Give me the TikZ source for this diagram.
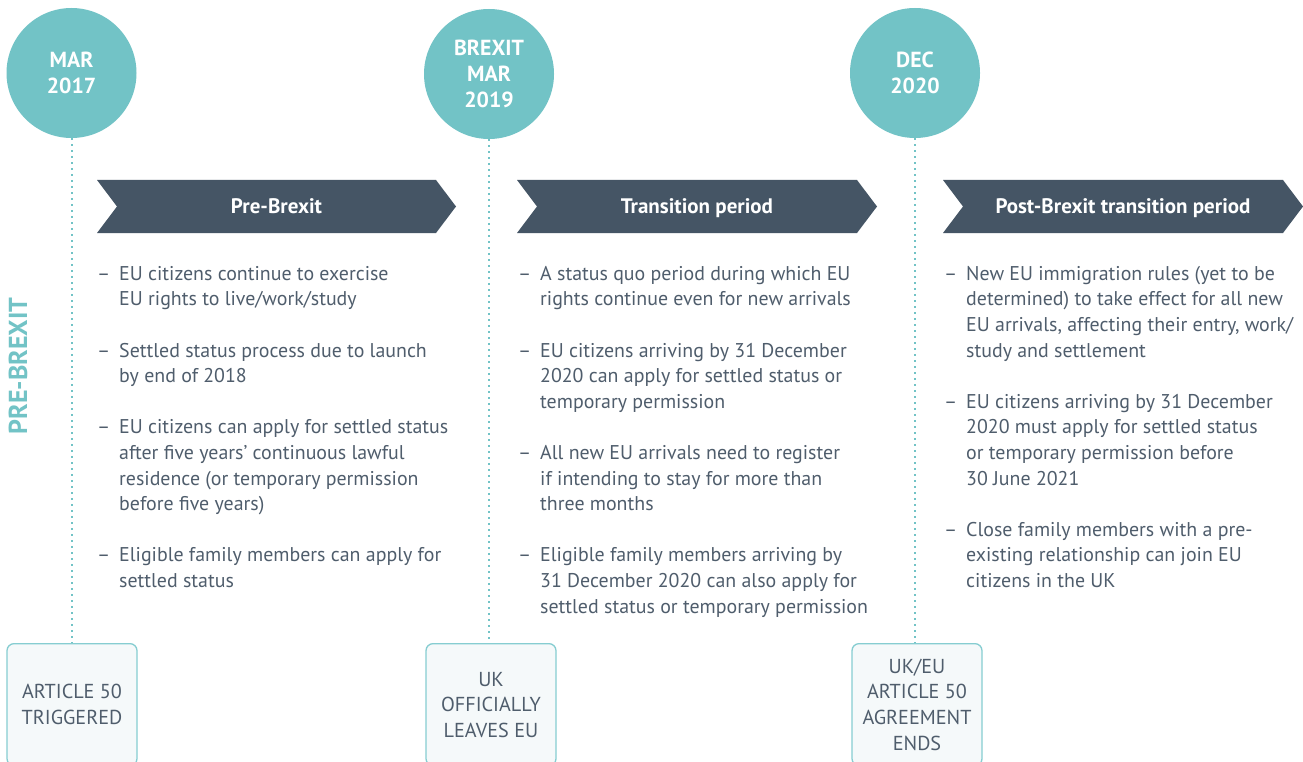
\documentclass[tikz,border=0pt]{standalone}
\usepackage{fontspec}
\setmainfont{PT Sans}
\usetikzlibrary{positioning}
\definecolor{teal}{HTML}{72C3C6}
\definecolor{slate}{HTML}{455565}
\definecolor{txt}{HTML}{4F5D6C}
\definecolor{boxline}{HTML}{86CDD1}
\definecolor{boxfill}{HTML}{F5F9FA}
\newcommand{\bul}{\llap{\makebox[22pt][l]{–}}}
\tikzset{
  datecircle/.style={circle, fill=teal, text=white, inner sep=0pt, minimum size=130pt,
    align=center, font=\bfseries\fontsize{21.8}{25.6}\selectfont},
  eventbox/.style={draw=boxline, line width=1.3pt, fill=boxfill, rounded corners=7pt,
    minimum width=130pt, minimum height=122pt, inner sep=0pt, anchor=north,
    text=txt, align=center, font=\fontsize{20.2}{25.6}\selectfont},
  chevtext/.style={text=white, anchor=base, font=\bfseries\fontsize{21}{24}\selectfont},
  chevfill/.style={fill=slate},
  bullets/.style={anchor=north west, inner sep=0pt, text=txt, align=left,
    font=\fontsize{19.9}{25.6}\selectfont},
  timeline/.style={draw=teal, line width=2pt, dash pattern=on 2pt off 4pt},
}
\begin{document}
\begin{tikzpicture}[x=1pt,y=-1pt]
\useasboundingbox (0,0) rectangle (1303,762);
\clip (0,0) rectangle (1303,762);
\fill[white] (0,0) rectangle (1303,762);

% date circles
\node[datecircle] (c1) at (71.5,73) {MAR\\2017};
\node[datecircle] (c2) at (489,74) {BREXIT\\MAR\\2019};
\node[datecircle] (c3) at (915,73) {DEC\\2020};

% event boxes
\node[eventbox] (b1) at (72,643) {ARTICLE 50\\TRIGGERED};
\node[eventbox] (b2) at (491,643) {UK\\OFFICIALLY\\LEAVES EU};
\node[eventbox] (b3) at (917,643) {UK/EU\\ARTICLE 50\\AGREEMENT\\ENDS};

% dotted timelines
\draw[timeline] (c1.south) -- (c1.south |- b1.north);
\draw[timeline] (c2.south) -- (c2.south |- b2.north);
\draw[timeline] (c3.south) -- (c3.south |- b3.north);

% chevrons
\fill[chevfill] (97,180) -- (436,180) -- (456,206.5) -- (436,233) -- (97,233) -- (117,206.5) -- cycle;
\fill[chevfill] (517,180) -- (857,180) -- (877,206.5) -- (857,233) -- (517,233) -- (537,206.5) -- cycle;
\fill[chevfill] (943,180) -- (1283,180) -- (1303,206.5) -- (1283,233) -- (943,233) -- (963,206.5) -- cycle;
\node[chevtext] (h1) at (276.5,213.5) {Pre-Brexit};
\node[chevtext] (h2) at (697,213.5) {Transition period};
\node[chevtext] (h3) at (1123,213.5) {Post-Brexit transition period};

% side label
\node[text=teal, rotate=90, font=\bfseries\fontsize{26}{30}\selectfont] (side) at (18,366) {PRE-BREXIT};

% bullet columns
\node[bullets] (col1) at (119,262.08) {\strut\bul EU citizens continue to exercise\\
EU rights to live/work/study\\[25.6pt]
\bul Settled status process due to launch\\
by end of 2018\\[25.6pt]
\bul EU citizens can apply for settled status\\
after five years’ continuous lawful\\
residence (or temporary permission\\
before five years)\\[25.6pt]
\bul Eligible family members can apply for\\
settled status};

\node[bullets] (col2) at (540,262.08) {\strut\bul A status quo period during which EU\\
rights continue even for new arrivals\\[25.6pt]
\bul EU citizens arriving by 31 December\\
2020 can apply for settled status or\\
temporary permission\\[25.6pt]
\bul All new EU arrivals need to register\\
if intending to stay for more than\\
three months\\[25.6pt]
\bul Eligible family members arriving by\\
31 December 2020 can also apply for\\
settled status or temporary permission};

\node[bullets] (col3) at (966,262.08) {\strut\bul New EU immigration rules (yet to be\\
determined) to take effect for all new\\
EU arrivals, affecting their entry, work/\\
study and settlement\\[25.6pt]
\bul EU citizens arriving by 31 December\\
2020 must apply for settled status\\
or temporary permission before\\
30 June 2021\\[25.6pt]
\bul Close family members with a pre-\\
existing relationship can join EU\\
citizens in the UK};
\end{tikzpicture}
\end{document}
